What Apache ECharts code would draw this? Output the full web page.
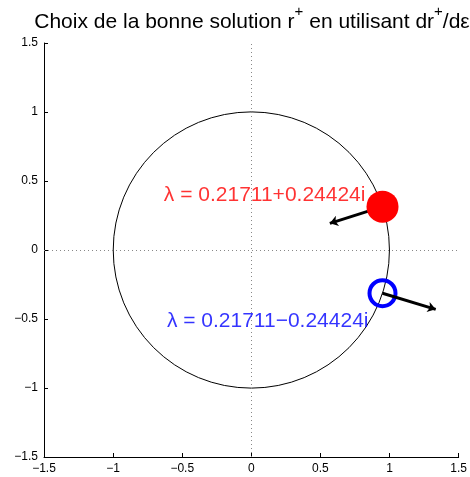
<!DOCTYPE html>
<html><head><meta charset="utf-8">
<script src="https://cdn.jsdelivr.net/npm/echarts@6/dist/echarts.min.js"></script>
<style>html,body{margin:0;padding:0;background:#fff}#c{width:470px;height:477px}</style>
</head><body><div id="c"></div>
<script>
// tick values
var ticks = [-1.5, -1, -0.5, 0, 0.5, 1, 1.5];
// unit circle: center x, center y, radius
var circleDef = [[0, 0, 1]];
// eigenvalue markers (r+ positions)
var redPoint = [[0.949, 0.314]];
var bluePoint = [[0.949, -0.313]];
// derivative arrows: [start, end]
var redArrow = [[0.949, 0.314], [0.568, 0.193]];
var blueArrow = [[0.949, -0.313], [1.334, -0.43]];
// annotations
var labelTexts = ['λ = 0.21711+0.24424i', 'λ = 0.21711−0.24424i'];
var labelPos = [[-0.633, 0.40], [-0.611, -0.514]];

var FONT = 'Liberation Sans, Arial, Helvetica, sans-serif';
function fmt(v){ return String(v).replace('-', '−'); }

var chart = echarts.init(document.getElementById('c'));
chart.setOption({
  animation: false,
  backgroundColor: '#fff',
  title: {
    text: '{n|Choix de la bonne solution r}{s|+}{n| en utilisant dr}{s|+}{n|/dε}',
    left: 252, top: 4, padding: 0, textAlign: 'center',
    textStyle: {
      fontFamily: FONT, fontSize: 21, fontWeight: 'normal', color: '#000',
      rich: {
        n: { fontFamily: FONT, fontSize: 21, color: '#000', verticalAlign: 'bottom' },
        s: { fontFamily: FONT, fontSize: 15, color: '#000', verticalAlign: 'bottom', padding: [0, 0, 14, 0] }
      }
    }
  },
  grid: { left: 44, right: 11, top: 43, bottom: 20 },
  xAxis: {
    type: 'value', min: -1.5, max: 1.5, interval: 0.5,
    axisLine: { onZero: false, lineStyle: { color: '#000', width: 1 } },
    axisTick: { inside: true, length: 4, lineStyle: { color: '#000' } },
    axisLabel: { fontFamily: FONT, fontSize: 12, color: '#000', margin: 6, formatter: fmt },
    splitLine: { show: false }
  },
  yAxis: {
    type: 'value', min: -1.5, max: 1.5, interval: 0.5,
    axisLine: { show: true, onZero: false, lineStyle: { color: '#000', width: 1 } },
    axisTick: { show: true, inside: true, length: 4, lineStyle: { color: '#000' } },
    axisLabel: { fontFamily: FONT, fontSize: 12, color: '#000', margin: 6, formatter: fmt },
    splitLine: { show: false }
  },
  series: [
    {
      type: 'custom', z: 1, silent: true,
      data: circleDef,
      renderItem: function (params, api) {
        var c = api.coord([api.value(0), api.value(1)]);
        var s = api.size([api.value(2), api.value(2)]);
        return {
          type: 'circle',
          shape: { cx: c[0], cy: c[1], r: (s[0] + s[1]) / 2 },
          style: { fill: 'none', stroke: '#000', lineWidth: 1 }
        };
      },
      markLine: {
        silent: true, symbol: 'none', label: { show: false },
        lineStyle: { type: [1, 3], color: '#888', width: 1 },
        data: [{ xAxis: 0 }, { yAxis: 0 }]
      }
    },
    {
      type: 'scatter', z: 2, data: bluePoint, symbol: 'circle', symbolSize: 26,
      itemStyle: { color: 'rgba(0,0,0,0)', borderColor: '#0000ff', borderWidth: 4, opacity: 1 }
    },
    {
      type: 'lines', coordinateSystem: 'cartesian2d', z: 3,
      data: [{ coords: redArrow }, { coords: blueArrow }],
      symbol: ['none', 'arrow'], symbolSize: 8,
      lineStyle: { color: '#000', width: 3, opacity: 1 }
    },
    {
      type: 'scatter', z: 4, data: redPoint, symbol: 'circle', symbolSize: 32,
      itemStyle: { color: '#ff0000', opacity: 1 }
    },
    {
      type: 'scatter', z: 5, symbolSize: 0,
      data: [
        { value: labelPos[0], label: { formatter: labelTexts[0], color: '#ff0000' } },
        { value: labelPos[1], label: { formatter: labelTexts[1], color: '#0000ff' } }
      ],
      label: { show: true, position: [0, 0], align: 'left', verticalAlign: 'middle',
               fontFamily: FONT, fontSize: 21 }
    }
  ]
});
</script></body></html>
